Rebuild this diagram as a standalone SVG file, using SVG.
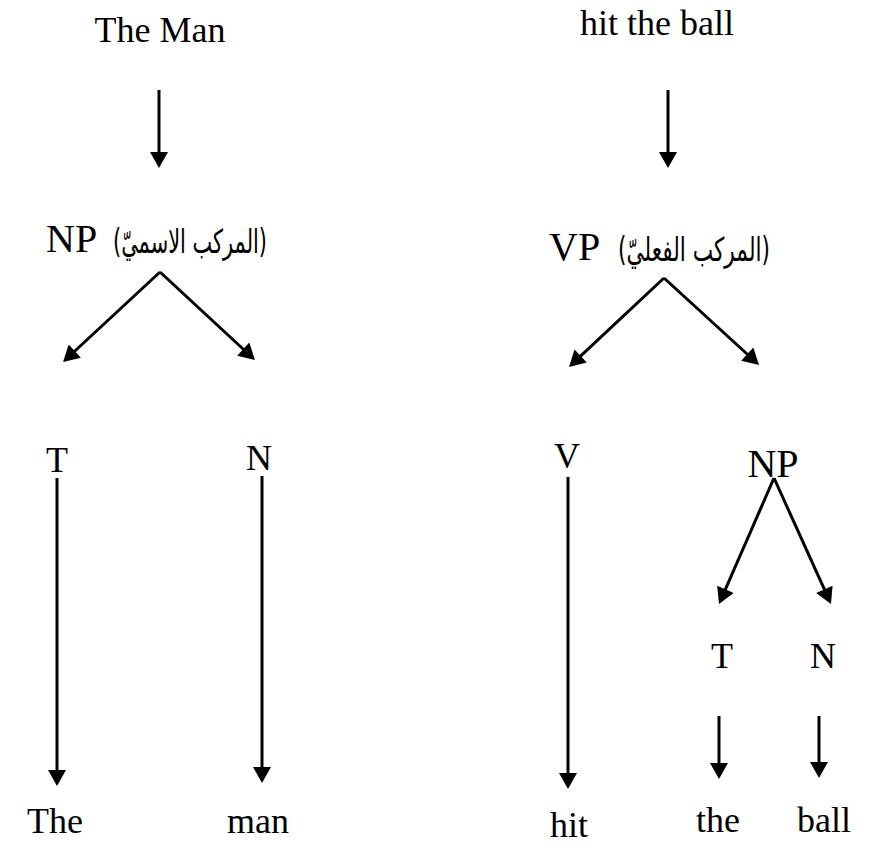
<svg xmlns="http://www.w3.org/2000/svg" width="883" height="863" viewBox="0 0 883 863">
<defs>
<style>
.t{font-family:"Liberation Serif","Times New Roman",serif;font-size:36px;fill:#000}
.b{font-size:40px}
.m{text-anchor:middle}
.ar{font-family:"DejaVu Sans","Noto Sans",sans-serif;font-size:33px;fill:#000}
.c line{stroke:#000;stroke-width:3;marker-end:url(#ah)}
</style>
<marker id="ah" markerUnits="userSpaceOnUse" markerWidth="18" markerHeight="18" refX="2" refY="9" orient="auto" viewBox="0 0 16 18">
<path d="M0,0 L16,9 L0,18 z" fill="#000"/>
</marker>
</defs>
<rect width="883" height="863" fill="#fff"/>
<g id="n-theman"><text class="t m" x="160" y="42">The Man</text></g>
<g id="n-hittheball"><text class="t m" x="657" y="35">hit the ball</text></g>
<g id="n-np"><text class="t b" x="46" y="252">NP</text><text class="ar" x="113" y="253" textLength="154" lengthAdjust="spacingAndGlyphs">(المركب الاسميّ)</text></g>
<g id="n-vp"><text class="t b" x="549" y="260">VP</text><text class="ar" x="618" y="261" textLength="152" lengthAdjust="spacingAndGlyphs">(المركب الفعليّ)</text></g>
<g id="n-t1"><text class="t m" x="57" y="472">T</text></g>
<g id="n-n1"><text class="t m" x="259" y="470">N</text></g>
<g id="n-v"><text class="t m" x="567" y="468">V</text></g>
<g id="n-np2"><text class="t b m" x="773" y="477">NP</text></g>
<g id="n-t2"><text class="t m" x="722" y="668">T</text></g>
<g id="n-n2"><text class="t m" x="823" y="668">N</text></g>
<g id="n-the1"><text class="t m" x="55" y="833">The</text></g>
<g id="n-man"><text class="t m" x="258" y="833">man</text></g>
<g id="n-hit"><text class="t m" x="569" y="837">hit</text></g>
<g id="n-the2"><text class="t m" x="718" y="832">the</text></g>
<g id="n-ball"><text class="t m" x="824" y="832">ball</text></g>
<g id="connectors" class="c">
<line x1="159" y1="90" x2="159" y2="154"/>
<line x1="668" y1="90" x2="668" y2="154"/>
<line x1="160" y1="272" x2="73.3" y2="352.5"/>
<line x1="160" y1="272" x2="244.7" y2="350.5"/>
<line x1="664" y1="278" x2="579.2" y2="357.4"/>
<line x1="664" y1="278" x2="748.7" y2="355.5"/>
<line x1="57" y1="478" x2="57" y2="772"/>
<line x1="262" y1="476" x2="262" y2="769"/>
<line x1="568" y1="477" x2="568" y2="775"/>
<line x1="774" y1="478" x2="724.6" y2="591.2"/>
<line x1="774" y1="478" x2="825.2" y2="591.2"/>
<line x1="719" y1="716" x2="719" y2="765"/>
<line x1="819" y1="716" x2="819" y2="764"/>
</g>
</svg>
